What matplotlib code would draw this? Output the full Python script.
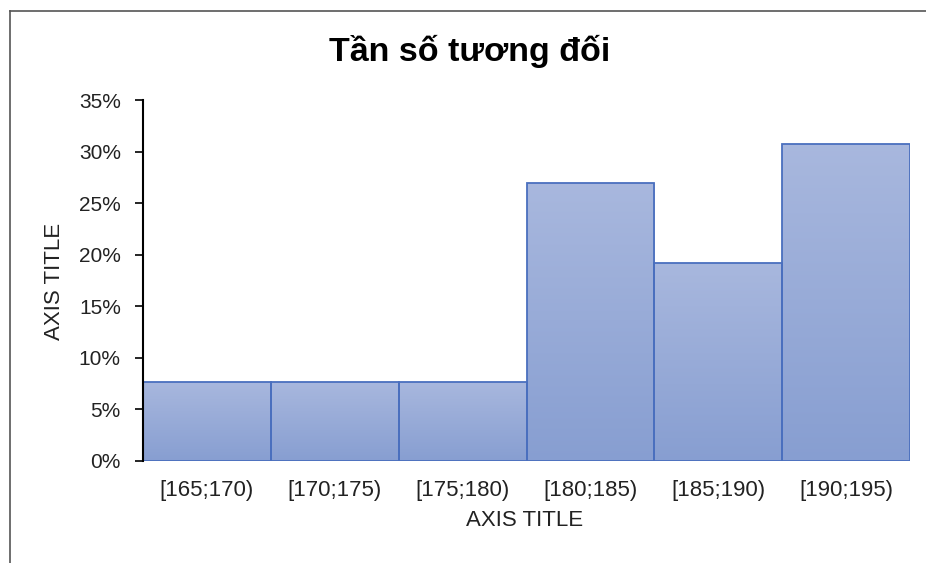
import numpy as np
import matplotlib
matplotlib.use("Agg")
import matplotlib.pyplot as plt
from matplotlib.lines import Line2D
from matplotlib.ticker import PercentFormatter

plt.rcParams['font.family'] = ['Liberation Sans', 'DejaVu Sans']

# Relative frequency of heights per class interval
classes = ["[165;170)", "[170;175)", "[175;180)", "[180;185)", "[185;190)", "[190;195)"]
rel_freq = [2 / 26, 2 / 26, 2 / 26, 7 / 26, 5 / 26, 8 / 26]
y_ticks = [0, 0.05, 0.10, 0.15, 0.20, 0.25, 0.30, 0.35]

title = "Tần số tương đối"
x_title = "AXIS TITLE"
y_title = "AXIS TITLE"

fig = plt.figure(figsize=(9.26, 5.63), dpi=100)
fig.patch.set_facecolor("white")

# Outer chart frame (left and top edges)
W, H = 926, 563
fig.add_artist(Line2D([10 / W, 10 / W], [0, 1 - 11 / H], color="#555555", lw=1.2))
fig.add_artist(Line2D([10 / W, 1], [1 - 11 / H, 1 - 11 / H], color="#555555", lw=1.2))

ax = fig.add_axes([143 / W, 1 - 461 / H, (910 - 143) / W, (461 - 100) / H])

x = np.arange(len(classes))
bars = ax.bar(x, rel_freq, width=1.0, facecolor="none", edgecolor="#4a6fbe",
              linewidth=1.3, zorder=3)

# Vertical gradient fill clipped to every bar
grad = np.linspace(0, 1, 256).reshape(-1, 1)
top_c = np.array([0.66, 0.72, 0.87])
bot_c = np.array([0.53, 0.62, 0.82])
img = top_c * (1 - grad[..., None]) + bot_c * grad[..., None]
img = img.reshape(256, 1, 3)
for b in bars:
    x0, y0 = b.get_x(), b.get_y()
    w, h = b.get_width(), b.get_height()
    im = ax.imshow(img, extent=[x0, x0 + w, y0, y0 + h], aspect="auto",
                   origin="upper", zorder=2, interpolation="bilinear")
    im.set_clip_path(b)

ax.set_xlim(-0.5, len(classes) - 0.5)
ax.set_ylim(0, 0.35)
ax.set_yticks(y_ticks)
ax.yaxis.set_major_formatter(PercentFormatter(1.0, decimals=0))
ax.set_xticks(x)
ax.set_xticklabels(classes)

for s in ["top", "right", "bottom"]:
    ax.spines[s].set_visible(False)
ax.spines["left"].set_color("black")
ax.spines["left"].set_linewidth(1.5)
ax.spines["left"].set_zorder(5)

ax.tick_params(axis="y", direction="out", length=6, width=1.2, labelsize=15,
               colors="black", pad=10, labelcolor="#222222")
ax.tick_params(axis="x", length=0, labelsize=16, pad=14, labelcolor="#222222")

ax.set_xlabel(x_title, fontsize=16, color="#222222", labelpad=6)
ax.set_ylabel(y_title, fontsize=16, color="#222222", labelpad=10)
ax.yaxis.set_label_coords(55 / W, 0.5, transform=fig.transFigure)
ax.xaxis.set_label_coords(525 / W, 1 - 521 / H, transform=fig.transFigure)
ax.xaxis.label.set_va("center")
ax.yaxis.label.set_va("center")

fig.text(470 / W, 1 - 51 / H, title, ha="center", va="center",
         fontsize=24.5, fontweight="bold", color="black")

fig.savefig("out.png", dpi=100, facecolor="white")
